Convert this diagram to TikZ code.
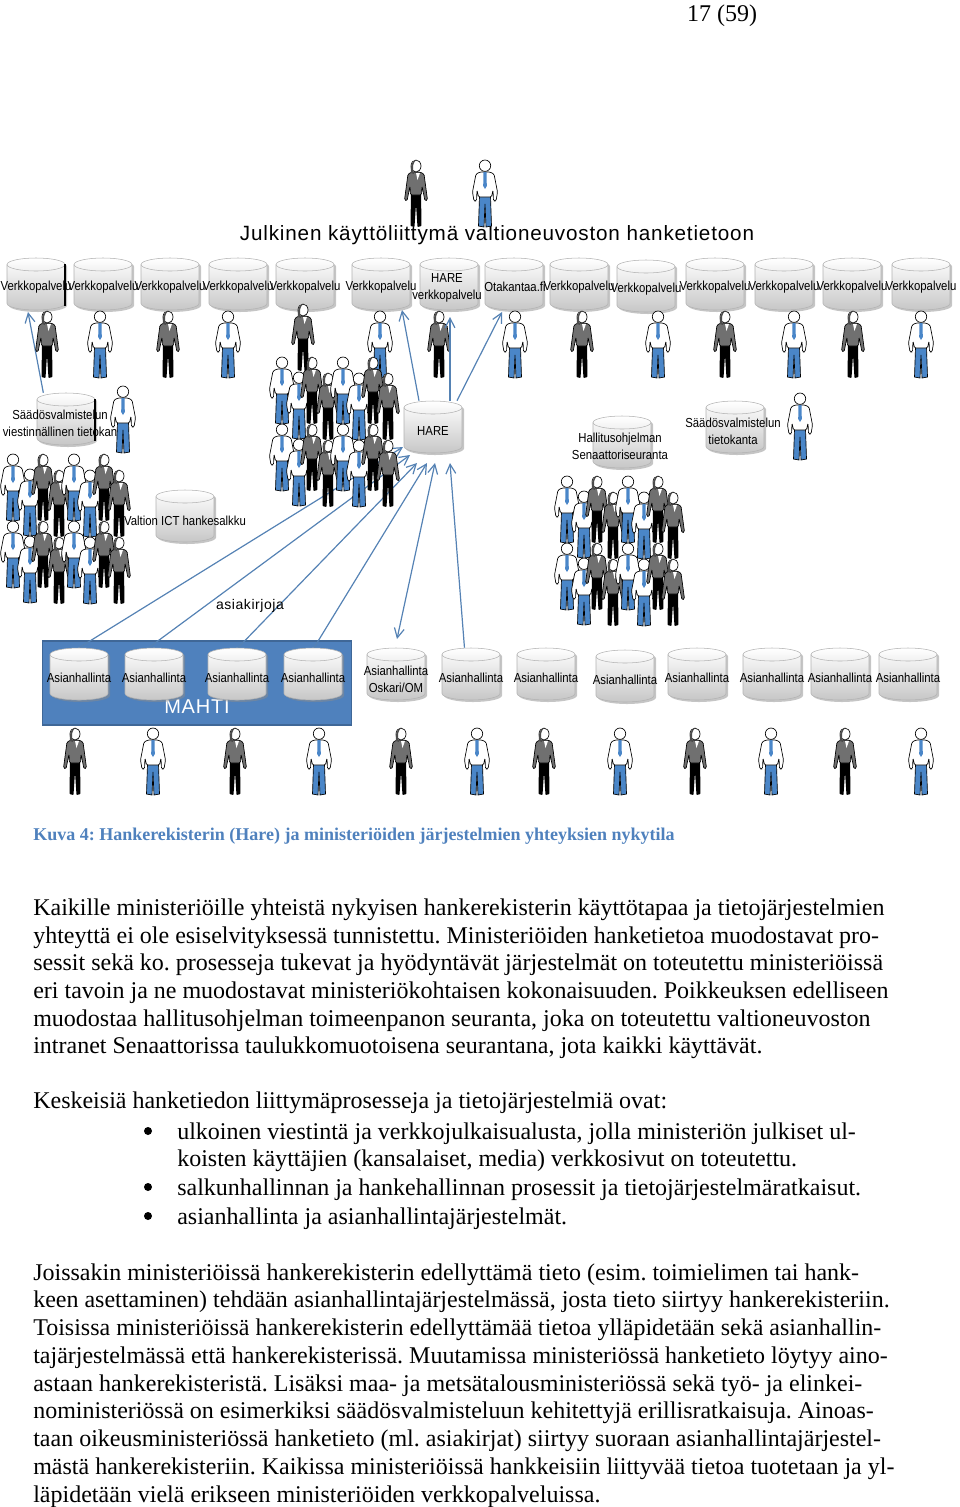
\documentclass[tikz,border=0pt]{standalone}
\usepackage{fontspec}
\setmainfont{Liberation Serif}
\setsansfont{Liberation Sans}
\newfontfamily\spacedfont[LetterSpace=4]{Liberation Sans}
\newfontfamily\dbfont[FakeStretch=0.87]{Liberation Sans}
\usetikzlibrary{arrows.meta, shadows, backgrounds}
\definecolor{hareblue}{HTML}{4F81BD}
\definecolor{linkblue}{HTML}{5582B4}
\definecolor{pantblue}{HTML}{4A86C8}
\definecolor{jacketgrey}{HTML}{707070}

\tikzset{
  manfig/.pic={
    \draw[black, line width=0.5pt, fill=pantblue] (-5.5,36) -- (-6.5,66) -- (-1,67) -- (0,44) -- (1,67) -- (6.5,66) -- (5.5,36) -- cycle;
    \draw[black, line width=0.5pt, fill=white, rounded corners=1pt] (-5,12) -- (-9,14) -- (-12.5,32) -- (-11,41) -- (-8.5,41) -- (-8,30) -- (-6.5,37) -- (6.5,37) -- (8,30) -- (8.5,41) -- (11,41) -- (12.5,32) -- (9,14) -- (5,12) -- cycle;
    \fill[pantblue] (-1.5,12) -- (1.5,12) -- (1.8,26) -- (0,29) -- (-1.8,26) -- cycle;
    \draw[black, line width=0.5pt, fill=white] (0,5.7) circle [radius=5.7];
  },
  womanfig/.pic={
    \fill[black, rounded corners=0.5pt] (-5,32) -- (-5.5,66) -- (-1.5,67) -- (0,44) -- (1.5,67) -- (5.5,66) -- (5,32) -- cycle;
    \draw[black, line width=0.5pt, fill=jacketgrey, rounded corners=1pt] (-4,12) -- (-8,14) -- (-11.5,40) -- (-9,41) -- (-6,26) -- (-5.5,35) -- (5.5,35) -- (6,26) -- (9,41) -- (11.5,40) -- (8,14) -- (4,12) -- cycle;
    \fill[white] (0,13) -- (4,13) -- (1.5,20) -- cycle;
    \draw[black, line width=0.5pt, fill=white] (0,6) ellipse [x radius=5, y radius=6];
    \fill[black!70] (-5,13) .. controls (-6.5,6) and (-3,0) .. (0,0) .. controls (-3,3) and (-4,7) .. (-2,14) -- cycle;
  },
  crowdfig/.pic={
    \foreach \ry in {0,67}{
      \foreach \px/\py/\kind in {0/0/manfig,17/15/manfig,30/0/womanfig,46/16/womanfig,61/0/manfig,77/16/manfig,91/0/womanfig,106/16/womanfig}
        \pic at (\px,\py+\ry) {\kind};
    }
  },
  dbfig/.pic={
    \path[draw=black!30, line width=0.4pt, top color=white, bottom color=black!22,
          drop shadow={shadow xshift=1.5pt, shadow yshift=-1.5pt, fill=black!45}]
      (-29,-19.5) arc [start angle=180, end angle=360, x radius=29, y radius=6.5]
      -- (29,19.5) arc [start angle=0, end angle=180, x radius=29, y radius=6.5] -- cycle;
    \draw[black!30, line width=0.4pt] (-29,-19.5) arc [start angle=180, end angle=0, x radius=29, y radius=6.5];
  }
}

\begin{document}
\frenchspacing
\begin{tikzpicture}[
  x=0.75pt, y=-0.75pt,
  dbcore/.style={rectangle, minimum width=43.5pt, minimum height=39pt, inner sep=0pt},
  dbtext/.style={font=\dbfont\fontsize{9.8}{12.7}\selectfont, align=center, inner sep=0pt, text=black},
  hlink/.style={-{Straight Barb[length=2.5mm, width=2.6mm]}, draw=linkblue, line width=0.9pt},
  hboth/.style={hlink, {Straight Barb[length=2.5mm, width=2.6mm]}-{Straight Barb[length=2.5mm, width=2.6mm]}},
  blackedge/.style={black, line width=1.4pt},
  mahtibox/.style={fill=hareblue, draw=hareblue!80!black, line width=0.8pt, minimum width=232pt, minimum height=63pt, inner sep=0pt},
  bodyline/.style={font=\rmfamily\fontsize{18}{20}\selectfont, anchor=base west, inner sep=0pt},
  bullet/.style={circle, fill=black, inner sep=0pt, minimum size=6pt}
]
\useasboundingbox (0,0) rectangle (960,1507);

\node[font=\rmfamily\fontsize{18}{20}\selectfont, anchor=base, inner sep=0pt] (pageno) at (722,21) {17 (59)};

% ---------------------------------------------- the public interface
\node[font=\spacedfont\fontsize{15.5}{18}\selectfont, inner sep=0pt] (title) at (497,235) {Julkinen käyttöliittymä valtioneuvoston hanketietoon};

% ---------------------------------------------- the web services
\foreach \cx/\cy [count=\i] in {36/284,103/284,170/284,238/284,305/284,381/284,449/284,514/284,579/284,646/286,715/284,784/284,852/284,921/284}{
  \pic at (\cx,\cy) {dbfig};
  \node[dbcore] (web\i) at (\cx,\cy) {};
}
\foreach \i in {1,2,3,4,5,6,9,10,11,12,13,14}
  \node[dbtext] (webtxt\i) at ([yshift=-2.5pt]web\i) {Verkkopalvelu};
\node[dbtext] (webtxt7) at (447,288) {HARE\\verkkopalvelu};
\node[dbtext] (webtxt8) at (515,287) {Otakantaa.fi};
\draw[blackedge] (65,264) -- (65,306);

% ---------------------------------------------- the middle databases
\pic at (66,419) {dbfig};
\node[dbcore] (viest) at (66,419) {};
\draw[blackedge] (95,399) -- (95,441);
\node[dbtext] (viesttxt) at (60,423) {Säädösvalmistelun\\viestinnällinen tietokan};
\pic at (433,427) {dbfig};
\node[dbcore] (hare) at (433,427) {};
\node[dbtext] (haretxt) at (433,431) {HARE};
\pic at (622,442) {dbfig};
\node[dbcore] (hallitus) at (622,442) {};
\node[dbtext] (hallitustxt) at (620,446) {Hallitusohjelman\\Senaattoriseuranta};
\pic at (735,427) {dbfig};
\node[dbcore] (saados) at (735,427) {};
\node[dbtext] (saadostxt) at (733,431) {Säädösvalmistelun\\tietokanta};
\pic at (185,516) {dbfig};
\node[dbcore] (ict) at (185,516) {};
\node[dbtext] (icttxt) at (185,521) {Valtion ICT hankesalkku};

\node[font=\spacedfont\fontsize{10.5}{12}\selectfont, inner sep=0pt] (asiak) at (250,606) {asiakirjoja};

% ---------------------------------------------- the case management systems
\begin{scope}[on background layer]
  \node[mahtibox] (mahti) at (197,683) {};
\end{scope}
\node[font=\spacedfont\fontsize{15}{18}\selectfont, text=white, inner sep=0pt] (mahtitxt) at (197,707) {MAHTI};
\foreach \cx/\cy [count=\i] in {79/674,154/674,237/674,313/674,396/674,471/674,546/674,625/676,697/674,772/674,840/674,908/674}{
  \pic at (\cx,\cy) {dbfig};
  \node[dbcore] (asia\i) at (\cx,\cy) {};
}
\foreach \i in {1,2,3,4,6,7,8,9,10,11,12}
  \node[dbtext] (asiatxt\i) at ([yshift=-2.5pt]asia\i) {Asianhallinta};
\node[dbtext] (asiatxt5) at (396,679) {Asianhallinta\\Oskari/OM};

% ---------------------------------------------- connectors go under the nodes
\coordinate (tipviest) at (28,312);
\coordinate (tipsix) at (402,310);
\coordinate (tipseven) at (450,317);
\coordinate (tipota) at (502,312);
\coordinate (tipa) at (403,447);
\coordinate (tipb) at (410,455);
\coordinate (tipc) at (417,463);
\coordinate (tipd) at (427,463);
\coordinate (tipe) at (435,463);
\coordinate (tipf) at (450,463);
\coordinate (tipg) at (397,639);
\begin{scope}[on background layer]
  \draw[hlink] ([xshift=-17pt]viest.north) -- (tipviest);
  \draw[hlink] ([xshift=-10.5pt]hare.north) -- (tipsix);
  \draw[hlink] ([xshift=18pt]hare.north) -- (tipota);
  \draw[hlink] (asia1.north) -- (tipa);
  \draw[hlink] ([xshift=-4pt]asia2.north) -- (tipb);
  \draw[hlink] ([xshift=0.75pt]asia3.north) -- (tipc);
  \draw[hlink] ([xshift=0.75pt]asia4.north) -- (tipd);
  \draw[hboth] (tipg) -- (tipe);
  \draw[hlink] ([xshift=-4.9pt]asia6.north) -- (tipf);
\end{scope}

% ---------------------------------------------- the people
\pic at (416,160) {womanfig};
\pic at (485,160) {manfig};
\foreach \px/\py/\kind in {47/311/womanfig,100/311/manfig,168/311/womanfig,228/311/manfig,303/304/womanfig,380/311/manfig,439/311/womanfig,515/311/manfig,582/311/womanfig,658/311/manfig,725/311/womanfig,794/311/manfig,853/311/womanfig,921/311/manfig}
  \pic at (\px,\py) {\kind};
\draw[hlink] ([xshift=12.75pt]hare.north) -- (tipseven);
\pic at (123,386) {manfig};
\pic at (800,393) {manfig};
\pic at (13,454) {crowdfig};
\pic at (282,357) {crowdfig};
\pic at (567,476) {crowdfig};
\foreach \px/\kind in {75/womanfig,153/manfig,235/womanfig,319/manfig,401/womanfig,477/manfig,544/womanfig,620/manfig,695/womanfig,771/manfig,845/womanfig,921/manfig}
  \pic at (\px,728) {\kind};

% ---------------------------------------------- caption and body text
\node[font=\rmfamily\bfseries\fontsize{13.5}{16}\selectfont, text=hareblue, anchor=base west, inner sep=0pt] (caption) at (33,840) {Kuva 4: Hankerekisterin (Hare) ja ministeriöiden järjestelmien yhteyksien nykytila};

\foreach \ty/\tx [count=\i] in {
  915/{Kaikille ministeriöille yhteistä nykyisen hankerekisterin käyttötapaa ja tietojärjestelmien},
  943/{yhteyttä ei ole esiselvityksessä tunnistettu. Ministeriöiden hanketietoa muodostavat pro-},
  970/{sessit sekä ko. prosesseja tukevat ja hyödyntävät järjestelmät on toteutettu ministeriöissä},
  998/{eri tavoin ja ne muodostavat ministeriökohtaisen kokonaisuuden. Poikkeuksen edelliseen},
  1026/{muodostaa hallitusohjelman toimeenpanon seuranta, joka on toteutettu valtioneuvoston},
  1053/{intranet Senaattorissa taulukkomuotoisena seurantana, jota kaikki käyttävät.},
  1108/{Keskeisiä hanketiedon liittymäprosesseja ja tietojärjestelmiä ovat:},
  1280/{Joissakin ministeriöissä hankerekisterin edellyttämä tieto (esim. toimielimen tai hank-},
  1307/{keen asettaminen) tehdään asianhallintajärjestelmässä, josta tieto siirtyy hankerekisteriin.},
  1335/{Toisissa ministeriöissä hankerekisterin edellyttämää tietoa ylläpidetään sekä asianhallin-},
  1363/{tajärjestelmässä että hankerekisterissä. Muutamissa ministeriössä hanketieto löytyy aino-},
  1391/{astaan hankerekisteristä. Lisäksi maa- ja metsätalousministeriössä sekä työ- ja elinkei-},
  1418/{noministeriössä on esimerkiksi säädösvalmisteluun kehitettyjä erillisratkaisuja. Ainoas-},
  1446/{taan oikeusministeriössä hanketieto (ml. asiakirjat) siirtyy suoraan asianhallintajärjestel-},
  1474/{mästä hankerekisteriin. Kaikissa ministeriöissä hankkeisiin liittyvää tietoa tuotetaan ja yl-},
  1502/{läpidetään vielä erikseen ministeriöiden verkkopalveluissa.}}
  \node[bodyline] (bodytxt\i) at (33,\ty) {\tx};

\foreach \ty/\tx [count=\i] in {
  1139/{ulkoinen viestintä ja verkkojulkaisualusta, jolla ministeriön julkiset ul-},
  1166/{koisten käyttäjien (kansalaiset, media) verkkosivut on toteutettu.},
  1195/{salkunhallinnan ja hankehallinnan prosessit ja tietojärjestelmäratkaisut.},
  1224/{asianhallinta ja asianhallintajärjestelmät.}}
  \node[bodyline] (listtxt\i) at (177,\ty) {\tx};

\foreach \ty [count=\i] in {1131,1187,1216}
  \node[bullet] (dot\i) at (148,\ty) {};

\end{tikzpicture}
\end{document}
